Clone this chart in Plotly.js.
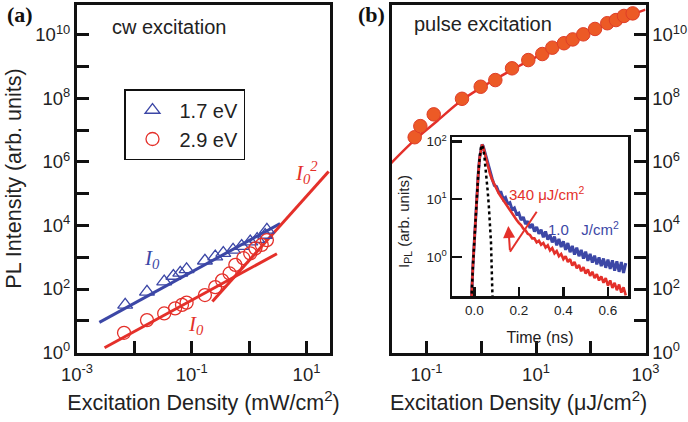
<!DOCTYPE html>
<html><head><meta charset="utf-8">
<script src="https://cdn.plot.ly/plotly-3.0.1.min.js"></script>
<style>html,body{margin:0;padding:0;background:#fff}</style>
</head><body><div id="chart" style="width:688px;height:422px"></div>
<script>
// ---------- data (log10 exponents) ----------
// (a) cw excitation
const triX = [-2.16,-1.78,-1.48,-1.32,-1.20,-1.09,-0.77,-0.59,-0.45,-0.28,-0.13,0.02,0.14,0.28,0.31];
const triY = [1.50,1.91,2.23,2.41,2.51,2.62,2.89,3.02,3.13,3.23,3.35,3.49,3.57,3.70,3.86];
const circX = [-2.18,-1.78,-1.48,-1.29,-1.17,-1.09,-0.77,-0.59,-0.47,-0.34,-0.24,-0.10,0.02,0.11,0.22,0.31];
const circY = [0.62,1.02,1.23,1.39,1.50,1.57,1.81,2.06,2.27,2.49,2.76,2.97,3.12,3.28,3.39,3.54];
const blueFitX = [-2.61, 0.54], blueFitY = [0.95, 4.06];
const redFitX = [-2.52, 0.485], redFitY = [0.15, 3.11];
const redSqX = [-0.64, 1.386], redSqY = [1.61, 5.70];
// (b) pulse excitation
const pulseX = [-1.216,-1.113,-0.868,-0.352,-0.010,0.257,0.562,0.859,1.115,1.298,1.511,1.670,1.864,2.078,2.302,2.461,2.607,2.766];
const pulseY = [6.78,7.13,7.50,7.99,8.37,8.58,8.95,9.21,9.40,9.60,9.74,9.86,10.02,10.19,10.37,10.47,10.60,10.68];
const pulseFitX = [-1.65,-1.2,-0.8,-0.35,0.1,0.56,1.0,1.51,2.0,2.3,2.65,3.0];
const pulseFitY = [5.96,6.72,7.30,7.95,8.45,8.90,9.30,9.72,10.10,10.35,10.58,10.80];
// inset: time (ns) and log10 PL
const tInset = [-0.02,-0.012,-0.006,0,0.006,0.012,0.018,0.024,0.03,0.035,0.04,0.045,0.05,0.055,
  0.06,0.07,0.08,0.09,0.10,0.11,0.12,0.13,0.14,0.15,0.16,0.17,0.18,0.19,0.20,0.21,0.22,0.23,0.24,0.25,
  0.26,0.27,0.28,0.29,0.30,0.31,0.32,0.33,0.34,0.35,0.36,0.37,0.38,0.39,0.40,0.41,0.42,0.43,0.44,0.45,
  0.46,0.47,0.48,0.49,0.50,0.51,0.52,0.53,0.54,0.55,0.56,0.57,0.58,0.59,0.60,0.61,0.62,0.63,0.64,0.65,
  0.66,0.67,0.68];
const blueLog = [-0.9,-0.68,-0.15,0.30,0.72,1.10,1.45,1.72,1.90,1.95,1.92,1.85,1.78,1.70,
  1.60,1.47,1.36,1.24,1.22,1.12,1.12,1.00,1.03,0.92,0.94,0.82,0.85,0.74,0.76,0.64,0.69,0.57,0.62,0.50,
  0.57,0.44,0.52,0.40,0.47,0.34,0.44,0.30,0.38,0.25,0.35,0.20,0.31,0.17,0.27,0.12,0.24,0.08,0.19,0.04,
  0.16,0.01,0.12,-0.03,0.09,-0.07,0.05,-0.10,0.02,-0.13,-0.01,-0.16,-0.03,-0.19,-0.05,-0.21,-0.06,-0.24,-0.08,-0.26,
  -0.09,-0.28,-0.11];
const redLog = [-0.9,-0.68,-0.15,0.30,0.72,1.10,1.45,1.72,1.90,1.95,1.91,1.83,1.75,1.67,
  1.58,1.45,1.34,1.25,1.17,1.10,1.04,0.98,0.92,0.86,0.80,0.75,0.69,0.64,0.59,0.55,0.49,0.46,0.40,0.38,
  0.32,0.32,0.25,0.28,0.21,0.24,0.16,0.20,0.11,0.15,0.06,0.10,0.01,0.05,-0.04,0.01,-0.09,-0.04,-0.15,-0.09,
  -0.20,-0.14,-0.25,-0.18,-0.29,-0.22,-0.33,-0.26,-0.37,-0.30,-0.41,-0.34,-0.45,-0.37,-0.50,-0.41,-0.54,-0.45,-0.58,-0.48,
  -0.62,-0.53,-0.67];
const tIRF = [-0.02,-0.012,-0.006,0,0.006,0.012,0.018,0.024,0.03,0.035,0.04,0.045,0.05,0.055,0.06,0.065,0.07,0.075,0.08,0.085];
const irfLog = [-0.95,-0.68,-0.15,0.30,0.72,1.10,1.45,1.72,1.90,1.94,1.88,1.76,1.58,1.38,1.15,0.90,0.60,0.25,-0.45,-1.2];
// tick labels
const yTickVals = [1,1e2,1e4,1e6,1e8,1e10];
const yTickText = ['10<sup>0</sup>','10<sup>2</sup>','10<sup>4</sup>','10<sup>6</sup>','10<sup>8</sup>','10<sup>10</sup>'];
const yMinorVals = [1e1,1e3,1e5,1e7,1e9];
const xaTickVals = [1e-3,1e-1,10];
const xaTickText = ['10<sup>-3</sup>','10<sup>-1</sup>','10<sup>1</sup>'];
const xaMinorVals = [1e-2,1];
const xbTickVals = [1e-1,10,1000];
const xbTickText = ['10<sup>-1</sup>','10<sup>1</sup>','10<sup>3</sup>'];
const xbMinorVals = [1,100];
const insetYVals = [1,10,100], insetYText = ['10<sup>0</sup>','10<sup>1</sup>','10<sup>2</sup>'];
const insetXVals = [0,0.2,0.4,0.6], insetXText = ['0.0','0.2','0.4','0.6'];

// ---------- helpers ----------
const p10 = a => a.map(v => Math.pow(10, v));
const W = 688, H = 422;
const px = x => x / W, py = y => 1 - y / H;
const BLUE = '#3c47a6', RED = '#e4302a', ORANGE = '#ec5a26';
const SANS = 'Liberation Sans, Arial, sans-serif', SERIF = 'Liberation Serif, Times New Roman, serif';

const traces = [
  {x:p10(blueFitX), y:p10(blueFitY), mode:'lines', line:{color:BLUE,width:3}, xaxis:'x', yaxis:'y', showlegend:false, hoverinfo:'skip'},
  {x:p10(redFitX), y:p10(redFitY), mode:'lines', line:{color:RED,width:3}, xaxis:'x', yaxis:'y', showlegend:false, hoverinfo:'skip'},
  {x:p10(redSqX), y:p10(redSqY), mode:'lines', line:{color:RED,width:3}, xaxis:'x', yaxis:'y', showlegend:false, hoverinfo:'skip'},
  {x:p10(triX), y:p10(triY), mode:'markers', name:'1.7 eV', marker:{symbol:'triangle-up-open', size:13, color:BLUE, line:{width:1.3}}, xaxis:'x', yaxis:'y'},
  {x:p10(circX), y:p10(circY), mode:'markers', name:'2.9 eV', marker:{symbol:'circle-open', size:13, color:RED, line:{width:1.3}}, xaxis:'x', yaxis:'y'},
  {x:p10(pulseFitX), y:p10(pulseFitY), mode:'lines', line:{color:RED,width:2.5,shape:'spline'}, xaxis:'x2', yaxis:'y2', showlegend:false},
  {x:p10(pulseX), y:p10(pulseY), mode:'markers', marker:{symbol:'circle', size:13.5, color:ORANGE, line:{color:'#df3d28',width:1}}, xaxis:'x2', yaxis:'y2', showlegend:false},
  {x:tInset, y:p10(blueLog), mode:'lines', line:{color:BLUE,width:3}, xaxis:'x3', yaxis:'y3', showlegend:false},
  {x:tInset, y:p10(redLog), mode:'lines', line:{color:RED,width:2.6}, xaxis:'x3', yaxis:'y3', showlegend:false},
  {x:tIRF, y:p10(irfLog), mode:'lines', line:{color:'#000',width:2.5,dash:'dot'}, xaxis:'x3', yaxis:'y3', showlegend:false}
];

const minorBase = {tickmode:'array', ticks:'inside', ticklen:12, tickwidth:3, tickcolor:'#111', showgrid:false};
const ax = {type:'log', showline:true, linewidth:3, linecolor:'#111', mirror:true, ticks:'inside', ticklen:12, tickwidth:3,
  tickcolor:'#111', showgrid:false, zeroline:false, tickfont:{family:SANS, size:18.5, color:'#222'}};
const titleFont = {family:SANS, size:21.5, color:'#222'};

const layout = {
  width:W, height:H, margin:{l:0,r:0,t:0,b:0,pad:0}, paper_bgcolor:'#fff', plot_bgcolor:'rgba(0,0,0,0)',
  showlegend:true,
  legend:{x:px(124), y:py(89), xanchor:'left', yanchor:'top', bordercolor:'#111', borderwidth:1.5, bgcolor:'#fff',
    font:{family:SANS, size:20, color:'#222'}, itemwidth:44, tracegroupgap:0},
  xaxis:Object.assign({}, ax, {domain:[px(77),px(330)], range:[-3,1.41], anchor:'y', tickmode:'array', tickvals:xaTickVals, ticktext:xaTickText,
    ticklabelstandoff:3, minor:Object.assign({}, minorBase, {tickvals:xaMinorVals}),
    title:{text:'Excitation Density (mW/cm<sup>2</sup>)', font:titleFont, standoff:12}}),
  yaxis:Object.assign({}, ax, {domain:[py(352.5),py(4.5)], range:[0,10.96], anchor:'x', tickmode:'array', tickvals:yTickVals, ticktext:yTickText,
    minor:Object.assign({}, minorBase, {tickvals:yMinorVals}),
    title:{text:'PL Intensity (arb. units)', font:titleFont, standoff:8}}),
  xaxis2:Object.assign({}, ax, {domain:[px(391.7),px(645.5)], range:[-1.636,3], anchor:'y2', tickmode:'array', tickvals:xbTickVals, ticktext:xbTickText,
    ticklabelstandoff:3, minor:Object.assign({}, minorBase, {tickvals:xbMinorVals}),
    title:{text:'Excitation Density (\u03bcJ/cm<sup>2</sup>)', font:titleFont, standoff:12}}),
  yaxis2:Object.assign({}, ax, {domain:[py(352.5),py(4.5)], range:[0,10.96], anchor:'x2', side:'right', tickmode:'array', tickvals:yTickVals, ticktext:yTickText,
    minor:Object.assign({}, minorBase, {tickvals:yMinorVals})}),
  xaxis3:{domain:[px(452),px(628)], range:[-0.1,0.69], anchor:'y3', showline:true, linewidth:2.5, linecolor:'#111', mirror:true,
    ticks:'inside', ticklen:9, tickwidth:2.5, tickcolor:'#111', showgrid:false, zeroline:false, tickmode:'array', tickvals:insetXVals, ticktext:insetXText,
    tickfont:{family:SANS, size:13.5, color:'#222'}, title:{text:'Time (ns)', font:{family:SANS, size:16, color:'#222'}, standoff:15}},
  yaxis3:{type:'log', domain:[py(296),py(137)], range:[-0.68,2.08], anchor:'x3', showline:true, linewidth:2.5, linecolor:'#111', mirror:true,
    ticks:'inside', ticklen:10, tickwidth:2.5, tickcolor:'#111', showgrid:false, zeroline:false, tickmode:'array', tickvals:insetYVals, ticktext:insetYText,
    tickfont:{family:SANS, size:13.5, color:'#222'}},
  shapes:[
    {type:'line', xref:'paper', yref:'paper', x0:px(536.7), y0:py(211.7), x1:px(510), y1:py(251.7), line:{color:RED,width:2}}
  ],
  annotations:[
    {text:'<b>(a)</b>', xref:'paper', yref:'paper', x:px(20), y:py(15), xanchor:'center', yanchor:'middle', showarrow:false, font:{family:SERIF, size:22, color:'#111'}},
    {text:'<b>(b)</b>', xref:'paper', yref:'paper', x:px(371), y:py(15), xanchor:'center', yanchor:'middle', showarrow:false, font:{family:SERIF, size:22, color:'#111'}},
    {text:'cw excitation', xref:'paper', yref:'paper', x:px(110), y:py(27), xanchor:'left', yanchor:'middle', showarrow:false, font:{family:SANS, size:20, color:'#222'}},
    {text:'pulse excitation', xref:'paper', yref:'paper', x:px(412), y:py(24), xanchor:'left', yanchor:'middle', showarrow:false, font:{family:SANS, size:20, color:'#222'}},
    {text:'<i>I<sub>0</sub></i>', xref:'paper', yref:'paper', x:px(152), y:py(259), xanchor:'center', yanchor:'middle', showarrow:false, font:{family:SERIF, size:21, color:BLUE}},
    {text:'<i>I<sub>0</sub></i>', xref:'paper', yref:'paper', x:px(196), y:py(325), xanchor:'center', yanchor:'middle', showarrow:false, font:{family:SERIF, size:21, color:RED}},
    {text:'<i>I<sub>0</sub><sup>2</sup></i>', xref:'paper', yref:'paper', x:px(306), y:py(172), xanchor:'center', yanchor:'middle', showarrow:false, font:{family:SERIF, size:21, color:RED}},
    {text:'I<sub>PL</sub> (arb. units)', xref:'paper', yref:'paper', x:px(404), y:py(222), xanchor:'center', yanchor:'middle', textangle:-90, showarrow:false, font:{family:SANS, size:15, color:'#222'}},
    {text:'340 \u03bcJ/cm<sup>2</sup>', xref:'paper', yref:'paper', x:px(507), y:py(193), xanchor:'left', yanchor:'middle', showarrow:false, font:{family:SANS, size:15, color:RED}},
    {text:'1.0   J/cm<sup>2</sup>', xref:'paper', yref:'paper', x:px(546), y:py(228), xanchor:'left', yanchor:'middle', showarrow:false, font:{family:SANS, size:15, color:BLUE}},
    {text:'', xref:'paper', yref:'paper', x:px(508.3), y:py(226), ax:1.7, ay:25.7, showarrow:true, arrowhead:2, arrowsize:1.2, arrowwidth:2, arrowcolor:RED}
  ]
};

Plotly.newPlot('chart', traces, layout, {displayModeBar:false, staticPlot:true});
</script></body></html>
